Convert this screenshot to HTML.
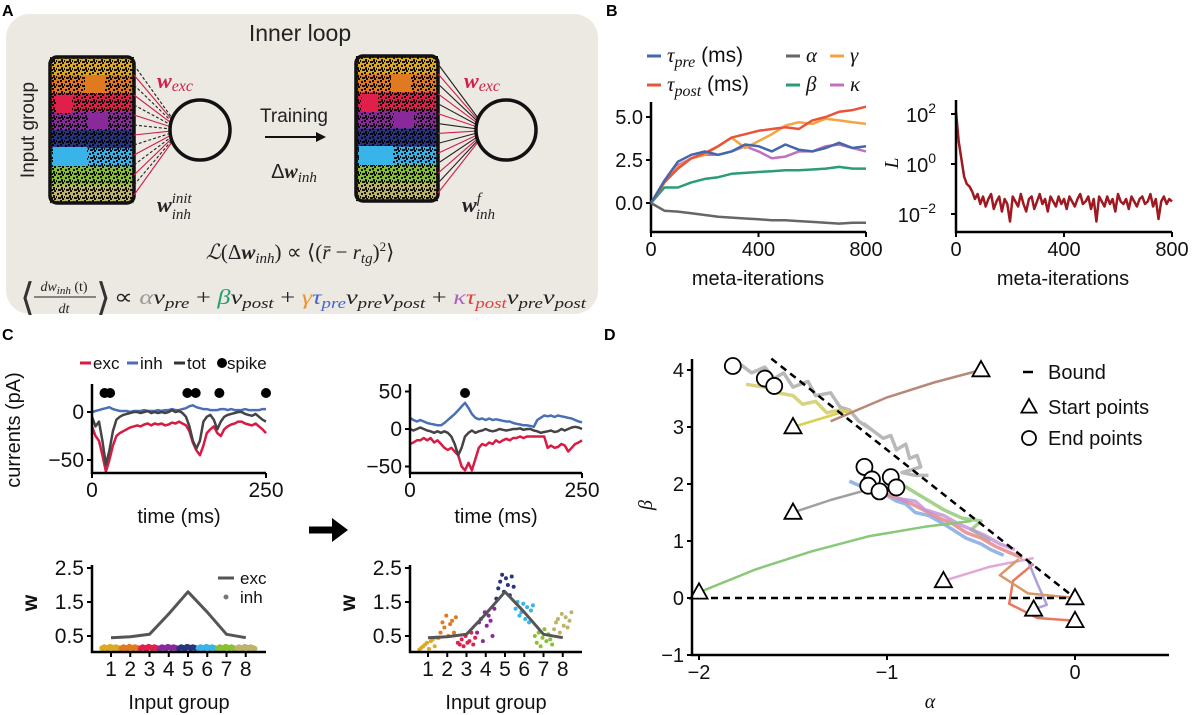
<!DOCTYPE html>
<html><head><meta charset="utf-8"><style>
html,body{margin:0;padding:0;background:#fff;}
svg{display:block;}
text{font-family:"Liberation Sans",sans-serif;}
.m{font-family:"Liberation Serif",serif;font-style:italic;}
</style></head><body>
<svg id="fig" width="1200" height="715" viewBox="0 0 1200 715" xmlns="http://www.w3.org/2000/svg">
<defs>
<pattern id="speck" width="8" height="8" patternUnits="userSpaceOnUse">
<rect x="1" y="1" width="2" height="2" fill="#000"/><rect x="5" y="3" width="2" height="3" fill="#000"/><rect x="2" y="5" width="3" height="2" fill="#000"/><rect x="6" y="6" width="2" height="2" fill="#000"/><rect x="4" y="0" width="2" height="2" fill="#000"/><rect x="0" y="4" width="1" height="2" fill="#000"/>
</pattern>
</defs>
<!-- Panel A -->
<g>
<text x="2" y="16" font-size="16" font-weight="bold">A</text>
<rect x="6" y="14" width="592" height="300" rx="24" fill="#ece8e2"/>
<text x="300" y="41" font-size="23" text-anchor="middle" fill="#222">Inner loop</text>
<text transform="translate(34,130) rotate(-90)" font-size="19" text-anchor="middle" fill="#222">Input group</text>
<g id="aLeft"></g>
<g id="aRight"></g>
<text x="157" y="88" class="m" font-size="22" font-weight="bold" fill="#d0204a">w<tspan font-size="16" dy="3" font-weight="normal">exc</tspan></text>
<text x="157" y="212" class="m" font-size="22" font-weight="bold" fill="#222">w<tspan font-size="15" dy="-9" font-weight="normal">init</tspan><tspan font-size="15" dx="-20" dy="16" font-weight="normal">inh</tspan></text>
<text x="464" y="88" class="m" font-size="22" font-weight="bold" fill="#d0204a">w<tspan font-size="16" dy="3" font-weight="normal">exc</tspan></text>
<text x="462" y="212" class="m" font-size="22" font-weight="bold" fill="#222">w<tspan font-size="15" dy="-9" font-weight="normal">f</tspan><tspan font-size="15" dx="-5" dy="16" font-weight="normal">inh</tspan></text>
<text x="294" y="122" font-size="19" text-anchor="middle" fill="#222">Training</text>
<line x1="265" y1="137" x2="318" y2="137" stroke="#111" stroke-width="2"/>
<polygon points="326,137 316,132 316,142" fill="#111"/>
<text x="294" y="178" font-size="20" text-anchor="middle" fill="#222">Δ<tspan class="m" font-weight="bold">w</tspan><tspan class="m" font-size="15" dy="4">inh</tspan></text>
<text x="300" y="259" font-size="21" text-anchor="middle" fill="#222" class="m">ℒ<tspan font-style="normal">(Δ</tspan><tspan font-weight="bold">w</tspan><tspan font-size="15" dy="4">inh</tspan><tspan font-style="normal" dy="-4">) ∝ ⟨(</tspan>r̄<tspan font-style="normal"> − </tspan>r<tspan font-size="15" dy="4">tg</tspan><tspan font-style="normal" dy="-4">)</tspan><tspan font-size="13" dy="-8" font-style="normal">2</tspan><tspan font-style="normal" dy="8">⟩</tspan></text>
<g>
<text x="20" y="310" font-size="38" fill="#333" font-family="Liberation Serif">⟨</text>
<text x="64" y="291" font-size="14" class="m" text-anchor="middle" fill="#222">dw<tspan font-size="11" dy="3">inh</tspan><tspan dy="-3" font-style="normal"> (t)</tspan></text>
<line x1="34" y1="297" x2="96" y2="297" stroke="#222" stroke-width="1"/>
<text x="64" y="313" font-size="14" class="m" text-anchor="middle" fill="#222">dt</text>
<text x="96" y="310" font-size="38" fill="#333" font-family="Liberation Serif">⟩</text>
<text x="114" y="304" font-size="21" class="m" fill="#222" textLength="472" lengthAdjust="spacingAndGlyphs"><tspan font-style="normal">∝ </tspan><tspan fill="#999">α</tspan>ν<tspan font-size="15" dy="4">pre</tspan><tspan font-style="normal" dy="-4"> + </tspan><tspan fill="#2a9d72">β</tspan>ν<tspan font-size="15" dy="4">post</tspan><tspan font-style="normal" dy="-4"> + </tspan><tspan fill="#f0922a">γ</tspan><tspan fill="#4466cc">τ</tspan><tspan fill="#4466cc" font-size="15" dy="4">pre</tspan><tspan dy="-4">ν</tspan><tspan font-size="15" dy="4">pre</tspan><tspan dy="-4">ν</tspan><tspan font-size="15" dy="4">post</tspan><tspan font-style="normal" dy="-4"> + </tspan><tspan fill="#b060c0">κ</tspan><tspan fill="#e04040">τ</tspan><tspan fill="#e04040" font-size="15" dy="4">post</tspan><tspan dy="-4">ν</tspan><tspan font-size="15" dy="4">pre</tspan><tspan dy="-4">ν</tspan><tspan font-size="15" dy="4">post</tspan></text>
</g>
</g>
<!-- Panel labels -->
<text x="606" y="16" font-size="16" font-weight="bold">B</text>
<text x="2" y="340" font-size="16" font-weight="bold">C</text>
<text x="604" y="340" font-size="16" font-weight="bold">D</text>
<g id="plots"></g>
</svg>
<script>
// ===== Panel B data =====
const metaIter = [0,50,100,150,200,250,300,350,400,450,500,550,600,650,700,750,800];
const tauPreVals  = [0,1.3,2.4,2.8,3.0,2.8,3.0,3.4,3.3,3.0,3.4,3.1,3.0,3.2,3.5,3.2,3.3];
const tauPostVals = [0,1.2,2.0,2.6,2.9,3.3,3.8,4.0,4.2,4.3,4.4,4.3,4.8,5.0,5.3,5.4,5.6];
const alphaVals   = [0,-0.45,-0.5,-0.6,-0.7,-0.8,-0.85,-0.9,-0.95,-1.0,-1.0,-1.05,-1.1,-1.15,-1.2,-1.15,-1.15];
const betaVals    = [0,0.9,0.9,1.2,1.4,1.5,1.7,1.75,1.8,1.85,1.9,1.9,1.95,2.0,2.1,2.0,2.0];
const gammaVals   = [0,1.2,2.1,2.6,2.8,3.3,3.8,3.2,3.6,4.0,4.5,4.7,4.6,4.9,4.8,4.7,4.6];
const kappaVals   = [0,1.2,2.2,2.6,2.8,2.8,3.0,3.3,3.0,2.6,2.7,3.0,3.0,3.3,3.4,3.2,3.0];
const paramTicks = [0,2.5,5.0];
const iterTicks = [0,400,800];
const lossStep = 10;
const lossLog10 = [2.1,0.9,0.2,-0.5,-0.8,-0.9,-1.1,-1.4,-1.2,-1.6,-1.3,-1.7,-1.4,-1.2,-1.8,-1.5,-1.3,-1.9,-1.4,-1.6,-2.3,-1.3,-1.5,-1.7,-1.2,-1.6,-1.9,-1.4,-1.3,-1.8,-1.5,-1.2,-1.6,-1.4,-1.9,-1.3,-1.5,-1.7,-1.3,-1.6,-1.4,-1.8,-1.3,-1.5,-1.7,-1.4,-1.2,-1.6,-1.5,-1.3,-1.8,-1.4,-2.3,-1.3,-1.5,-1.7,-1.3,-1.6,-1.4,-1.9,-1.2,-1.5,-1.6,-1.4,-1.8,-1.3,-1.5,-1.7,-1.4,-1.3,-1.6,-1.5,-1.2,-1.7,-1.4,-2.2,-1.5,-1.3,-1.6,-1.4,-1.5];
const lossTicks = [2,0,-2];
// ===== Panel C data =====
const excBefore = [-15,-25,-30,-45,-62,-50,-35,-25,-22,-20,-18,-16,-15,-14,-15,-13,-12,-14,-12,-13,-12,-14,-13,-11,-12,-10,-12,-14,-20,-32,-40,-45,-35,-22,-18,-15,-22,-25,-18,-15,-13,-12,-10,-10,-12,-13,-14,-12,-15,-18,-22];
const totBefore = [-5,-15,-10,-30,-55,-40,-20,-8,-5,-3,-2,-1,0,0,-1,0,1,-1,0,-1,0,-1,0,2,0,1,-1,-5,-15,-30,-38,-30,-10,-5,-3,-8,-18,-10,-5,-3,-2,-1,0,0,-2,-3,-4,-2,-5,-8,-10];
const inhBefore = [0,1,2,3,4,5,3,2,1,1,1,0,1,1,1,2,1,1,1,2,1,2,2,3,2,2,3,4,6,7,5,4,3,3,2,2,2,3,3,2,3,2,2,2,3,2,2,2,2,3,3];
const spikesBefore = [18,26,137,149,183,250];
const excAfter = [-20,-18,-15,-15,-12,-15,-12,-18,-15,-20,-25,-28,-25,-30,-35,-50,-55,-45,-55,-40,-25,-20,-22,-18,-20,-15,-18,-15,-13,-15,-12,-12,-10,-12,-10,-10,-10,-10,-10,-10,-25,-22,-25,-24,-20,-22,-30,-25,-20,-18,-15];
const inhAfter = [15,12,10,12,10,8,7,6,5,5,8,12,16,20,25,30,35,28,20,15,13,14,12,14,12,13,12,11,10,10,8,7,6,5,5,4,3,12,15,18,17,18,16,18,17,16,15,14,12,10,9];
const totAfter = [0,-2,0,2,0,-2,-3,-5,-3,-5,-3,-5,-10,-20,-35,-25,-10,-5,-2,-5,-3,-2,0,-2,-3,-2,0,-1,-2,-1,0,0,1,-1,0,0,-2,-3,-5,-4,-3,-2,-4,-3,0,-2,0,2,3,2,0];
const spikesAfter = [80];
const timeTicks = [0,250];
const curTicksBefore = [0,-50];
const curTicksAfter = [50,0,-50];
const groups = [1,2,3,4,5,6,7,8];
const groupColors = ["#dcaa22","#e07a20","#e0204a","#8a2a9a","#28347e","#38b4e8","#8cc034","#bdb46a"];
const excWeights = [0.45,0.48,0.55,1.15,1.8,1.2,0.55,0.45];
const inhInitial = [0.14,0.17,0.15,0.13,0.18,0.16,0.14,0.17,0.15,0.13];
const inhFinal = [
 [0.1,0.15,0.2,0.25,0.3,0.12,0.35,0.4,0.2,0.45],
 [0.45,0.6,0.9,0.75,1.1,0.5,0.85,0.95,0.6,1.05],
 [0.3,0.25,0.4,0.2,0.5,0.3,0.35,0.6,0.25,0.45],
 [0.6,0.9,1.0,0.35,1.2,0.8,1.1,0.95,0.5,1.3],
 [1.6,1.9,2.1,2.3,1.8,2.2,2.0,1.7,2.25,1.95],
 [1.3,1.5,1.1,1.2,1.45,1.0,1.35,0.9,1.25,1.4],
 [0.5,0.3,0.6,0.2,0.45,0.7,0.35,0.55,0.4,0.25],
 [0.7,0.9,1.0,0.6,1.15,0.8,1.05,0.75,0.95,1.2]];
const wTicks = [2.5,1.5,0.5];
// ===== Panel D data =====
const startPts = [[-0.5,4],[-1.5,3],[-1.5,1.5],[-2,0.1],[-0.7,0.3],[0,0],[-0.22,-0.2],[0,-0.4]];
const endPts = [[-1.82,4.07],[-1.65,3.85],[-1.6,3.72],[-1.12,2.3],[-1.08,2.08],[-0.98,2.12],[-1.1,1.97],[-1.04,1.87],[-0.95,1.94]];
const trajBrown = [[-0.5,4],[-0.75,3.78],[-1.0,3.52],[-1.3,3.1]];
const trajYellow = [[-1.5,3],[-1.35,3.15],[-1.2,3.3]];
const trajGray = [[-1.5,1.5],[-1.3,1.72],[-1.05,1.95]];
const trajGreen = [[-2,0.1],[-1.7,0.5],[-1.4,0.82],[-1.1,1.08],[-0.8,1.25],[-0.55,1.35]];
const trajPink = [[-0.7,0.3],[-0.45,0.55],[-0.22,0.7]];
const trajRed = [[0,-0.4],[-0.2,-0.35],[-0.35,-0.1],[-0.33,0.3],[-0.22,0.6]];
const trajLav = [[-0.22,-0.2],[-0.15,-0.12],[-0.2,0.25],[-0.25,0.65]];
const trajTan = [[0,0],[-0.25,0.08],[-0.4,0.4],[-0.3,0.68]];
const bandGray = [[-1.78,4.1],[-1.72,3.95],[-1.65,4.05],[-1.6,3.85],[-1.55,3.95],[-1.5,3.7],[-1.42,3.8],[-1.38,3.55],[-1.3,3.6],[-1.25,3.35],[-1.2,3.3],[-1.15,3.1],[-1.08,2.95],[-1.12,3.05],[-1.02,2.8],[-0.98,2.85],[-0.95,2.6],[-0.9,2.7],[-0.88,2.45],[-0.84,2.5],[-0.82,2.3],[-0.92,2.2],[-0.85,2.15],[-0.78,2.15]];
const bandYellow = [[-1.75,3.75],[-1.65,3.7],[-1.58,3.6],[-1.5,3.55],[-1.45,3.4],[-1.38,3.45],[-1.32,3.25],[-1.25,3.3],[-1.18,3.25]];
const bandBlue = [[-1.2,2.05],[-1.1,1.9],[-1.0,1.8],[-0.95,1.7],[-0.9,1.65],[-0.85,1.5],[-0.78,1.45],[-0.7,1.3],[-0.65,1.2],[-0.58,1.05],[-0.5,0.95],[-0.45,0.85],[-0.38,0.75]];
const bandRed = [[-1.05,1.85],[-0.98,1.8],[-0.9,1.7],[-0.85,1.62],[-0.78,1.5],[-0.72,1.4],[-0.65,1.3],[-0.58,1.15],[-0.5,1.05],[-0.42,0.9],[-0.35,0.8],[-0.28,0.7]];
const bandGreen = [[-1.0,2.0],[-0.9,1.95],[-0.85,1.85],[-0.8,1.75],[-0.75,1.65],[-0.7,1.55],[-0.6,1.4],[-0.5,1.35],[-0.55,1.2],[-0.45,1.0]];
const bandPurple = [[-0.95,1.75],[-0.85,1.7],[-0.8,1.55],[-0.7,1.45],[-0.62,1.3],[-0.55,1.2],[-0.48,1.1],[-0.4,0.95],[-0.32,0.85]];
const boundSlope = -2.6;
const alphaTicks = [-2,-1,0];
const betaTicks = [4,3,2,1,0,-1];

const NS="http://www.w3.org/2000/svg";
const root=document.getElementById('plots');
function mk(tag,attrs,parent){const e=document.createElementNS(NS,tag);for(const k in attrs)e.setAttribute(k,attrs[k]);(parent||root).appendChild(e);return e;}
function nm(e,name){
  
  
  return e;}
function txt(x,y,s,size,anchor,parent,name){const t=mk('text',{x:x,y:y,'font-size':size,'text-anchor':anchor||'middle',fill:'#111'},parent);t.textContent=s;nm(t,name);return t;}
function poly(pts,color,w,parent,name,extra){const p=mk('polyline',Object.assign({points:pts.map(q=>q[0].toFixed(1)+','+q[1].toFixed(1)).join(' '),fill:'none',stroke:color,'stroke-width':w,'stroke-linejoin':'round'},extra||{}),parent);nm(p,name);return p;}
function axes(g,x0,x1,y0,y1,name){const a=mk('path',{d:`M${x0},${y0} L${x0},${y1} L${x1},${y1}`,fill:'none',stroke:'#000','stroke-width':2.5},g);nm(a,name);}
function xtick(g,x,y,label,size,name){const l=mk('line',{x1:x,y1:y,x2:x,y2:y+5,stroke:'#000','stroke-width':2},g);nm(l,name+'-mark');txt(x,y+24,label,size,'middle',g,name);}
function ytick(g,x,y,label,size,name){const l=mk('line',{x1:x-5,y1:y,x2:x,y2:y,stroke:'#000','stroke-width':2},g);nm(l,name+'-mark');txt(x-8,y+7,label,size,'end',g,name);}
const fmt=v=>v.toString().replace('-','−');

// ----- Panel A drawings -----
function inputImage(gid,rx,ry,rw,rh,solid){
  const g=document.getElementById(gid);
  const bh=rh/8;
  groupColors.forEach((c,i)=>{const r=mk('rect',{x:rx,y:ry+i*bh,width:rw,height:bh+0.5,fill:c},g);nm(r,'input-band-'+(i+1));});
  const sp=mk('rect',{x:rx,y:ry,width:rw,height:rh,fill:'url(#speck)',opacity:0.9},g);nm(sp,'noise-overlay');
  const s1=mk('rect',{x:rx+35,y:ry+18,width:20,height:18,fill:'#e07a20'},g);nm(s1,'block-orange');
  const s2=mk('rect',{x:rx+6,y:ry+38,width:16,height:18,fill:'#e0204a'},g);nm(s2,'block-red');
  const s3=mk('rect',{x:rx+38,y:ry+56,width:20,height:16,fill:'#8a2a9a'},g);nm(s3,'block-purple');
  const s4=mk('rect',{x:rx+3,y:ry+90,width:34,height:19,fill:'#38b4e8'},g);nm(s4,'block-cyan');
  const b=mk('rect',{x:rx,y:ry,width:rw,height:rh,rx:7,fill:'none',stroke:'#111','stroke-width':3.5},g);nm(b,'image-border');
  const cx=solid?506:200, cy=130;
  for(let i=0;i<14;i++){const yy=ry+8+i*(rh-16)/13;const red=i%2===1;
    const l=mk('line',{x1:rx+rw,y1:yy,x2:cx-28,y2:cy-12+i*24/13,stroke:red?'#d0204a':'#222','stroke-width':1.1},g);
    if(!red&&!solid)l.setAttribute('stroke-dasharray','3,2');
    nm(l,red?'exc-connection':'inh-connection');}
  const c=mk('circle',{cx:cx,cy:cy,r:30,fill:'#ece8e2',stroke:'#111','stroke-width':3.5},g);nm(c,'output-neuron');
}
inputImage('aLeft',50,57,84,146,false);
inputImage('aRight',356,56,82,145,true);

// ----- Panel B left -----
const gB=mk('g',{});nm(gB,'panel-b-parameters');
const bx=v=>651+v/800*215, by=v=>203-v*17.2;
axes(gB,651,866,102,232,'params-axes');
iterTicks.forEach(v=>xtick(gB,bx(v),232,v,20,'params-x-tick'));
paramTicks.forEach(v=>ytick(gB,651,by(v),v.toFixed(1),20,'params-y-tick'));
txt(758,285,'meta-iterations',20,'middle',gB,'params-x-title');
const bSeries=[['alpha',alphaVals,'#666'],['beta',betaVals,'#2a9d72'],['kappa',kappaVals,'#c070c0'],['gamma',gammaVals,'#f5a442'],['tau-post',tauPostVals,'#e8543a'],['tau-pre',tauPreVals,'#4466aa']];
bSeries.forEach(s=>poly(s[1].map((v,i)=>[bx(metaIter[i]),by(v)]),s[2],2.5,gB,'line-'+s[0]));
// legend
const lg=mk('g',{});nm(lg,'params-legend');
const legItems=[['τ','pre',' (ms)','#4466aa',647,62],['τ','post',' (ms)','#e8543a',647,91],['α','','','#666',786,62],['β','','','#2a9d72',786,91],['γ','','','#f5a442',830,62],['κ','','','#c070c0',830,91]];
legItems.forEach(it=>{const l=mk('line',{x1:it[4],y1:it[5]-6,x2:it[4]+14,y2:it[5]-6,stroke:it[3],'stroke-width':3},lg);nm(l,'legend-swatch');
  const t=mk('text',{x:it[4]+20,y:it[5],'font-size':21,fill:'#111'},lg);nm(t,'legend-entry');
  const a=mk('tspan',{class:'m'},t);a.textContent=it[0];
  if(it[1]){const b=mk('tspan',{class:'m','font-size':16,dy:5},t);b.textContent=it[1];const c=mk('tspan',{dy:-5},t);c.textContent=it[2];}});
// ----- Panel B right -----
const gL=mk('g',{});nm(gL,'panel-b-loss');
const lx=v=>956+v/800*216, ly=v=>164-v*25;
poly(lossLog10.map((v,i)=>[lx(i*lossStep),ly(v)]),'#a01820',2.5,gL,'loss-line');
axes(gL,956,1172,100,232,'loss-axes');
iterTicks.forEach(v=>xtick(gL,lx(v),232,v,20,'loss-x-tick'));
lossTicks.forEach(v=>{const l=mk('line',{x1:951,y1:ly(v),x2:956,y2:ly(v),stroke:'#000','stroke-width':2},gL);nm(l,'loss-y-tick-mark');
  const t=mk('text',{x:936,y:ly(v)+8,'font-size':20,'text-anchor':'end',fill:'#111'},gL);nm(t,'loss-y-tick');t.textContent='10';
  const s=mk('tspan',{'font-size':14,dy:-9},t);s.textContent=fmt(v);});
const Lt=txt(0,0,'L',20,'middle',gL,'loss-y-title');Lt.setAttribute('class','m');Lt.setAttribute('transform','translate(898,163) rotate(-90)');
txt(1063,285,'meta-iterations',20,'middle',gL,'loss-x-title');

// ----- Panel C currents -----
function currents(name,x0,x1,yz,sc,exc,inh,tot,spikes,yt){
  const g=mk('g',{});nm(g,name);
  const fx=t=>x0+t/250*(x1-x0), fy=v=>yz-v*sc;
  [['exc',exc,'#d81b45'],['inh',inh,'#4a6fb5'],['tot',tot,'#444']].forEach(s=>poly(s[1].map((v,i)=>[fx(i*250/(s[1].length-1)),fy(v)]),s[2],2.5,g,name+'-'+s[0]+'-line'));
  spikes.forEach(t=>{const c=mk('circle',{cx:fx(t),cy:393,r:5,fill:'#000'},g);nm(c,'spike-marker');});
  axes(g,x0,x1,384,473,name+'-axes');
  timeTicks.forEach(v=>xtick(g,fx(v),473,v,21,name+'-x-tick'));
  yt.forEach(v=>ytick(g,x0,fy(v),fmt(v),21,name+'-y-tick'));
  txt((x0+x1)/2,523,'time (ms)',20,'middle',g,name+'-x-title');
}
currents('currents-before',92,266,412,0.96,excBefore,inhBefore,totBefore,spikesBefore,curTicksBefore);
currents('currents-after',410,582,429,0.75,excAfter,inhAfter,totAfter,spikesAfter,curTicksAfter);
const cy=txt(0,0,'currents (pA)',20,'middle',root,'currents-y-title');cy.setAttribute('transform','translate(20,430) rotate(-90)');
const cl=mk('g',{});nm(cl,'currents-legend');
[['exc','#d81b45',80],['inh','#4a6fb5',127],['tot','#333',174]].forEach(it=>{const l=mk('line',{x1:it[2],y1:363,x2:it[2]+11,y2:363,stroke:it[1],'stroke-width':3},cl);nm(l,'legend-swatch');txt(it[2]+13,369,it[0],17,'start',cl,'legend-entry');});
const sd=mk('circle',{cx:222,cy:363,r:5,fill:'#000'},cl);nm(sd,'legend-spike-marker');
txt(227,369,'spike',17,'start',cl,'legend-entry');
const ar=mk('path',{d:'M309,530 L333,530',stroke:'#000','stroke-width':7},root);nm(ar,'before-after-arrow');
const ah=mk('polygon',{points:'348,530 332,518 332,542',fill:'#000'},root);nm(ah,'before-after-arrow-head');

// ----- Panel C weights -----
function weights(name,x0,x1,gx0,finals){
  const g=mk('g',{});nm(g,name);
  const fx=v=>gx0+(v-1)*19.25, fy=w=>636-(w-0.5)*34;
  groups.forEach((gr,gi)=>{const vals=finals?finals[gi]:inhInitial;
    vals.forEach((w,j)=>{const c=mk('circle',{cx:fx(gr-0.45+j*0.9/(vals.length-1)),cy:fy(w),r:finals?2:3,fill:groupColors[gi]},g);nm(c,'inh-weight-dot');});});
  poly(excWeights.map((w,i)=>[fx(groups[i]),fy(w)]),'#555',3,g,name+'-exc-line');
  axes(g,x0,x1,565,652,name+'-axes');
  groups.forEach(v=>xtick(g,fx(v),652,v,21,name+'-x-tick'));
  wTicks.forEach(v=>ytick(g,x0,fy(v),v.toFixed(1),21,name+'-y-tick'));
  txt((x0+x1)/2,709,'Input group',20,'middle',g,name+'-x-title');
  const w=txt(0,0,'w',21,'middle',g,name+'-y-title');w.setAttribute('font-weight','bold');w.setAttribute('transform',`translate(${x0-55},603) rotate(-90)`);
}
weights('weights-before',92,266,111,null);
weights('weights-after',410,582,428,inhFinal);
const wl=mk('g',{});nm(wl,'weights-legend');
const wls=mk('line',{x1:218,y1:578,x2:234,y2:578,stroke:'#555','stroke-width':3},wl);nm(wls,'legend-swatch');
txt(240,584,'exc',17,'start',wl,'legend-entry');
const wld=mk('circle',{cx:226,cy:597,r:2.5,fill:'#777'},wl);nm(wld,'legend-swatch');
txt(240,603,'inh',17,'start',wl,'legend-entry');

// ----- Panel D -----
const gD=mk('g',{});nm(gD,'panel-d-phase');
const dx=a=>1075+a*188, dy=b=>598-b*57;
const P=pts=>pts.map(p=>[dx(p[0]),dy(p[1])]);
[[bandGray,'#a8a8a8','band-gray'],[bandYellow,'#cfc860','band-yellow'],[bandBlue,'#7aa4e0','band-blue'],[bandGreen,'#8cc870','band-green'],[bandRed,'#e88080','band-red'],[bandPurple,'#c090d8','band-purple']].forEach(b=>poly(P(b[0]),b[1],3.5,gD,b[2],{opacity:0.8}));
[[trajBrown,'#b88878','traj-brown'],[trajYellow,'#d8d050','traj-yellow'],[trajGray,'#a0a0a0','traj-gray'],[trajGreen,'#88c878','traj-green'],[trajPink,'#e0a8d8','traj-pink'],[trajRed,'#e8775e','traj-red'],[trajLav,'#aaa0e0','traj-lavender'],[trajTan,'#d89868','traj-tan']].forEach(t=>poly(P(t[0]),t[1],2.5,gD,t[2]));
const bd=mk('line',{x1:dx(-4.2/-boundSlope),y1:dy(4.2),x2:dx(0),y2:dy(0),stroke:'#000','stroke-width':2.5,'stroke-dasharray':'7,5'},gD);nm(bd,'bound-diagonal');
const bh=mk('line',{x1:dx(-2),y1:dy(0),x2:dx(0),y2:dy(0),stroke:'#000','stroke-width':2.5,'stroke-dasharray':'7,5'},gD);nm(bh,'bound-horizontal');
function tri(x,y,s){return `${x},${y-s} ${x-s*0.95},${y+s*0.7} ${x+s*0.95},${y+s*0.7}`;}
startPts.forEach(p=>{const t=mk('polygon',{points:tri(dx(p[0]),dy(p[1]),9),fill:'#fff',stroke:'#000','stroke-width':1.8},gD);nm(t,'start-point');});
endPts.forEach(p=>{const c=mk('circle',{cx:dx(p[0]),cy:dy(p[1]),r:8,fill:'#fff',stroke:'#000','stroke-width':1.8},gD);nm(c,'end-point');});
axes(gD,692,1169,359,655,'phase-axes');
alphaTicks.forEach(v=>xtick(gD,dx(v),655,fmt(v),20,'alpha-tick'));
betaTicks.forEach(v=>ytick(gD,692,dy(v),fmt(v),20,'beta-tick'));
const at=txt(930,708,'α',20,'middle',gD,'alpha-axis-title');at.setAttribute('class','m');
const bt=txt(0,0,'β',20,'middle',gD,'beta-axis-title');bt.setAttribute('class','m');bt.setAttribute('transform','translate(652,505) rotate(-90)');
const dl=mk('g',{});nm(dl,'phase-legend');
const dls=mk('line',{x1:1023,y1:372,x2:1033,y2:372,stroke:'#000','stroke-width':2.5},dl);nm(dls,'legend-swatch');
txt(1048,379,'Bound',20,'start',dl,'legend-entry');
const dlt=mk('polygon',{points:tri(1029,407,8),fill:'#fff',stroke:'#000','stroke-width':1.8},dl);nm(dlt,'legend-swatch');
txt(1048,414,'Start points',20,'start',dl,'legend-entry');
const dlc=mk('circle',{cx:1029,cy:438,r:7,fill:'#fff',stroke:'#000','stroke-width':1.8},dl);nm(dlc,'legend-swatch');
txt(1048,445,'End points',20,'start',dl,'legend-entry');
</script>
</body></html>
